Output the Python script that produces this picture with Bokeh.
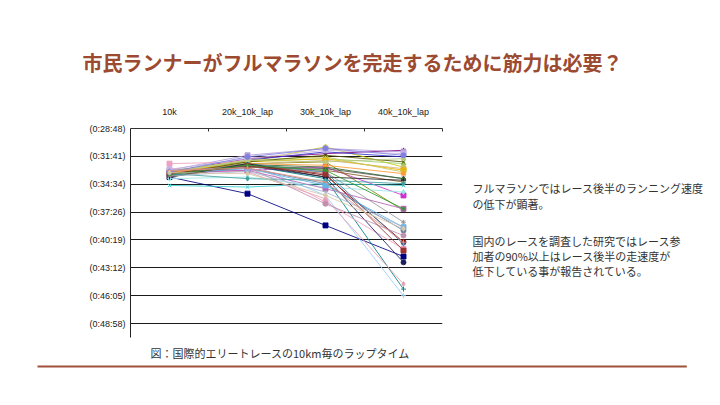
from bokeh.plotting import figure
from bokeh.models import Range1d, FixedTicker, Label
from bokeh.embed import file_html
from bokeh.resources import INLINE

# ---------------- data ----------------
categories = ["10k", "20k_10k_lap", "30k_10k_lap", "40k_10k_lap"]
tick_seconds = [1728, 1901, 2074, 2246, 2419, 2592, 2765, 2938]
tick_labels = ["(0:28:48)", "(0:31:41)", "(0:34:34)", "(0:37:26)",
               "(0:40:19)", "(0:43:12)", "(0:46:05)", "(0:48:58)"]

# lap time (seconds) of each runner for each 10 km segment
lap_seconds = [
    [2029, 2132, 2329, 2522],
    [2008, 1987, 1967, 2143],
    [1998, 1935, 1842, 1967],
    [2081, 2091, 2070, 2081],
    [1998, 1915, 1884, 1863],
    [2014, 1946, 2018, 2433],
    [2002, 1956, 2039, 2724],
    [2018, 1925, 1873, 1904],
    [1987, 1894, 1852, 1873],
    [1946, 1935, 2184, 2475],
    [1993, 1931, 1915, 1946],
    [2008, 1946, 1935, 2236],
    [2018, 1967, 1998, 2309],
    [2023, 1956, 2029, 2558],
    [1987, 1942, 2143, 2765],
    [1977, 1998, 2164, 2692],
    [2014, 1952, 1925, 1977],
    [2002, 1935, 1915, 1987],
    [2029, 1960, 1977, 2039],
    [1993, 1925, 1904, 1998],
    [2010, 1952, 1967, 2039],
    [2018, 1973, 2070, 2361],
    [2023, 1967, 1987, 2060],
    [2039, 2029, 2091, 2122],
    [1998, 1987, 2101, 2226],
    [2008, 1977, 2081, 2340],
    [2002, 1946, 1956, 2008],
    [2014, 1935, 1894, 1935],
    [2018, 1946, 1998, 2444],
    [1987, 1967, 2195, 2392],
    [2029, 1946, 2029, 2049],
    [2008, 2039, 2049, 2070],
    [1981, 1915, 1863, 1884],
    [2010, 1960, 2008, 2485],
    [1993, 1925, 1935, 1915],
    [2023, 1993, 2122, 2340],
    [2014, 1956, 1987, 2226],
    [1998, 1904, 1852, 1894],
    [1989, 1973, 2060, 2433],
    [2002, 2008, 2143, 2350],
]

series_colors = [
    "#000080", "#cc33cc", "#cccc00", "#33cccc", "#800080", "#800000", "#008080", "#3333cc",
    "#b19cd9", "#f0a0c0", "#99cc66", "#808000", "#969696", "#1f1f5f", "#99ccff", "#e6a0b0",
    "#d2b48c", "#e6b800", "#555555", "#c8c864", "#336633", "#6a7b9a", "#8b5a2b", "#99e6e6",
    "#b366b3", "#66b3e6", "#ff9933", "#555500", "#4682b4", "#c090b0", "#222222", "#40a0a0",
    "#c8b4e6", "#993333", "#b8c880", "#a8b8cc", "#339933", "#8080e0", "#e09080", "#d8c8a8",
]
series_markers = ["square", "square", "triangle", "x", "asterisk", "circle", "cross", "diamond"]

title_text = "市民ランナーがフルマラソンを完走するために筋力は必要？"
body_lines = [
    "フルマラソンではレース後半のランニング速度",
    "の低下が顕著。",
    "国内のレースを調査した研究ではレース参",
    "加者の90%以上はレース後半の走速度が",
    "低下している事が報告されている。",
]
caption_text = "図：国際的エリートレースの10km毎のラップタイム"

# ---------------- figure ----------------
W, H = 720, 405
FL, FT = 130, 128          # frame left / top on canvas
FW, FH = 312, 209          # frame width / height
Y0, Y1 = 1728, 3024        # y range (top, bottom)
NX = len(categories)

p = figure(width=W, height=H, output_backend="svg", toolbar_location=None,
           x_range=Range1d(0, NX), y_range=Range1d(Y1, Y0),
           x_axis_location="above",
           min_border_left=FL, min_border_top=FT,
           min_border_right=W - FL - FW, min_border_bottom=H - FT - FH)
p.border_fill_color = "white"
p.background_fill_color = "white"
p.outline_line_color = None

# canvas pixel -> data coordinates (used only to place slide decorations)
def xd(ix):
    return (ix - FL) / FW * NX

def yd(iy):
    return Y0 + (iy - FT) / FH * (Y1 - Y0)

def label(ix, iy, text, size, color, bold=False, side="below"):
    p.add_layout(Label(x=xd(ix), y=yd(iy), text=text, text_font="Noto Sans CJK JP",
                       text_font_style="bold" if bold else "normal",
                       text_font_size=size, text_color=color, text_baseline="middle",
                       level="overlay"), side)

# axes
xa = p.xaxis[0]
xa.ticker = FixedTicker(ticks=[i + 0.5 for i in range(NX)],
                        minor_ticks=list(range(1, NX + 1)))
xa.major_label_overrides = {i + 0.5: c for i, c in enumerate(categories)}
xa.major_tick_line_color = None
xa.minor_tick_in = 3
xa.minor_tick_out = 0
xa.minor_tick_line_color = "#333333"
xa.axis_line_color = "#333333"
xa.major_label_text_font = "Liberation Sans"
xa.major_label_text_font_size = "9px"
xa.major_label_text_color = "#222222"
xa.major_label_standoff = 6

ya = p.yaxis[0]
ya.ticker = FixedTicker(ticks=tick_seconds)
ya.major_label_overrides = {t: l for t, l in zip(tick_seconds, tick_labels)}
ya.major_tick_in = 0
ya.major_tick_out = 0
ya.minor_tick_line_color = None
ya.axis_line_color = "#222222"
ya.major_label_text_font = "Liberation Sans"
ya.major_label_text_font_size = "9px"
ya.major_label_text_color = "#222222"
ya.major_label_standoff = 5

p.xgrid.grid_line_color = None
p.ygrid.ticker = FixedTicker(ticks=tick_seconds)
p.ygrid.grid_line_color = "#1a1a1a"
p.ygrid.grid_line_width = 1

# series
xs = [i + 0.5 for i in range(NX)]
for k, laps in enumerate(lap_seconds):
    col = series_colors[k % len(series_colors)]
    mk = series_markers[k % len(series_markers)]
    p.line(xs, laps, line_color=col, line_width=1, line_alpha=0.85)
    p.scatter(xs, laps, marker=mk, size=5, line_color=col, fill_color=col, line_alpha=0.9)

# texts (split between the top and bottom border panels so the frame keeps its size)
label(82, 62, title_text, "20px", "#9c4a30", bold=True, side="above")
body_y = [187, 203, 240, 255, 270]
for i, (t, yy) in enumerate(zip(body_lines, body_y)):
    label(472, yy, t, "11px", "#333333", side="above" if i < 3 else "below")
label(150, 352, caption_text, "11px", "#333333")

# red rule under the chart
p.add_layout(Label(x=xd(37), y=yd(365), text=" ", text_font_size="1px",
                   text_align="left", text_baseline="top",
                   padding=dict(left=0, right=649, top=1, bottom=0),
                   background_fill_color="#a0503a", background_fill_alpha=1,
                   level="overlay"), "below")

open("out.html", "w").write(file_html(p, INLINE))
